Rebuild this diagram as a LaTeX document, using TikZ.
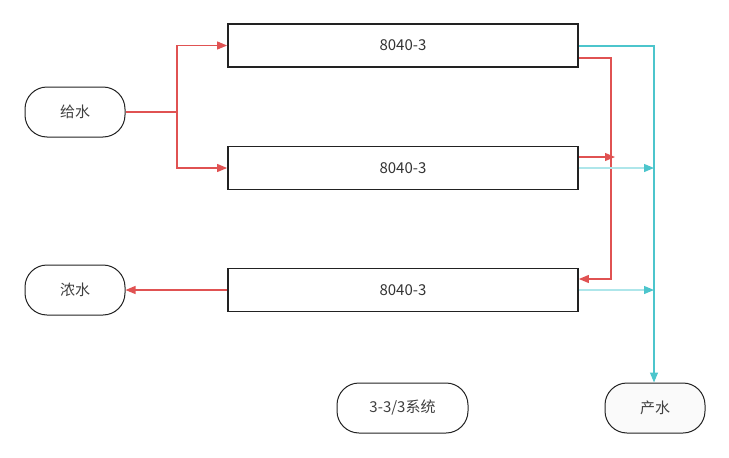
\documentclass[tikz,border=0pt]{standalone}
\usepackage{fontspec}
\setmainfont{Noto Sans CJK SC}
\usetikzlibrary{arrows.meta}
\definecolor{rd}{HTML}{E05252}
\definecolor{cy}{HTML}{4CC5CC}
\definecolor{lcy}{HTML}{AEE6EA}
\definecolor{bd}{HTML}{222222}
\begin{document}
\begin{tikzpicture}[x=1pt,y=-1pt,
  tip/.style={-{Triangle[length=10pt,width=8pt]}},
  membox/.style={draw=bd,line width=1.8pt,minimum width=350pt,minimum height=43pt,inner sep=0pt,font=\fontsize{15}{17}\selectfont,text=black!80},
  term/.style={draw=bd,line width=1pt,rounded corners=22pt,minimum height=50pt,inner sep=0pt,font=\fontsize{15}{17}\selectfont,text=black!75},
  redline/.style={draw=rd,line width=1.1pt,tip},
  cyline/.style={draw=cy,line width=1.2pt,tip}
]
\useasboundingbox (0,0) rectangle (729,458);
\node[membox] (b1) at (403,45.5) {8040-3};
\node[membox] (b2) at (403,168) {8040-3};
\node[membox] (b3) at (403,290) {8040-3};
\node[term,minimum width=100pt] (in) at (75,112) {给水};
\node[term,minimum width=100pt] (con) at (75,290) {浓水};
\node[term,minimum width=131pt] (sys) at (402.5,408) {3-3/3系统};
\node[term,minimum width=100pt,fill=black!2] (prod) at (655,408) {产水};
\coordinate (split) at (177,112);
\coordinate (rj) at (611,58);
\coordinate (cj) at (654,46);
% feed
\draw[rd,line width=1.1pt] (in.east) -- (split);
\draw[redline] (split) |- (b1.west);
\draw[redline] (split) |- (b2.west);
% concentrate series
\draw[redline] (b1.east |- rj) -- (rj) |- ([yshift=11pt]b3.east);
\draw[redline] ([yshift=11pt]b2.east) -- ([xshift=4pt,yshift=11pt]b2.east -| rj);
\draw[redline] (b3.west) -- (con.east);
% permeate
\draw[cyline] (b1.east |- cj) -- (cj) -- (cj |- prod.north);
\draw[lcy,line width=1.2pt] (b2.east) -- ([xshift=-10pt]b2.east -| cj);
\draw[cy,line width=1.2pt,-{Triangle[length=10pt,width=8pt]}] ([xshift=-10.5pt]b2.east -| cj) -- (b2.east -| cj);
\draw[lcy,line width=1.2pt] (b3.east) -- ([xshift=-10pt]b3.east -| cj);
\draw[cy,line width=1.2pt,-{Triangle[length=10pt,width=8pt]}] ([xshift=-10.5pt]b3.east -| cj) -- (b3.east -| cj);
\end{tikzpicture}
\end{document}
